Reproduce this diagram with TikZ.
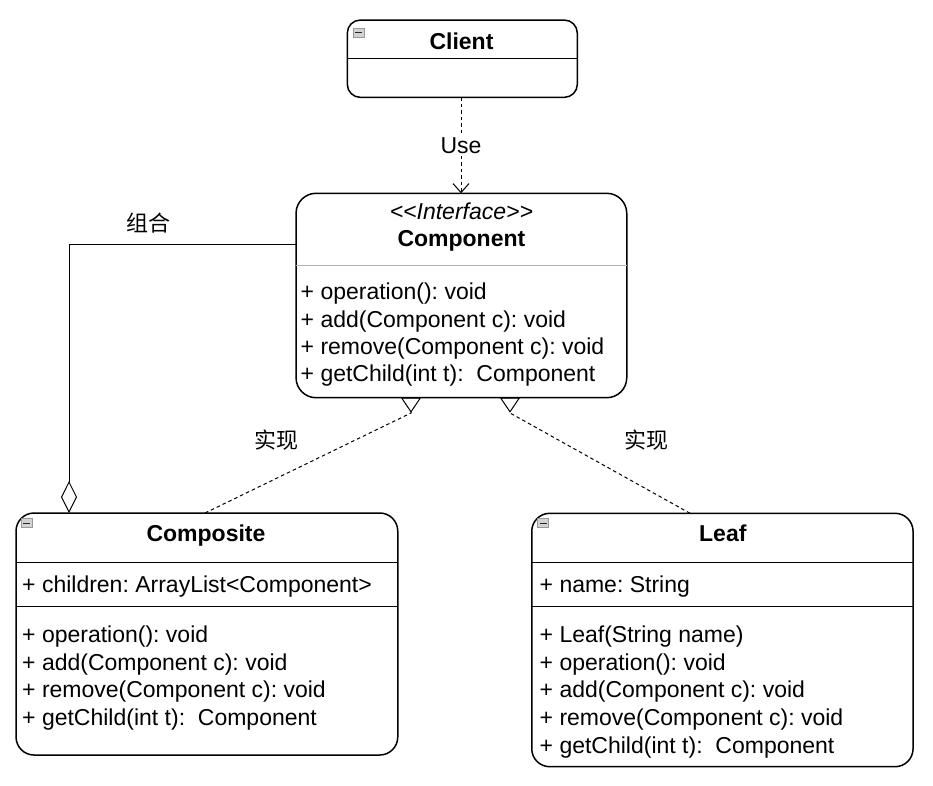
\documentclass[tikz,border=0pt]{standalone}
\usepackage{fontspec}
\setmainfont{Liberation Sans}
\newfontfamily\cjk{Noto Sans CJK SC}
\usetikzlibrary{arrows.meta}
\frenchspacing
\begin{document}
\begin{tikzpicture}[x=1pt,y=-1pt,
  umlbox/.style={draw, line width=1.5pt, rounded corners=16pt, fill=white, outer sep=0pt, inner sep=0pt},
  sep/.style={line width=1.2pt},
  lsep/.style={line width=1pt, draw=gray!60},
  txt/.style={anchor=base west, inner sep=0pt, font=\fontsize{23}{27}\selectfont},
  ttl/.style={anchor=base, inner sep=0pt, font=\fontsize{23}{27}\selectfont\bfseries},
  lbl/.style={inner sep=1.5pt, font=\fontsize{23}{27}\selectfont},
  cjklbl/.style={inner sep=1pt, font=\fontsize{22}{26}\selectfont\cjk},
  dsh/.style={line width=1pt, dash pattern=on 3.5pt off 3pt},
  icn/.style={draw=gray!80, fill=gray!35, line width=0.6pt, minimum width=11pt, minimum height=9pt, inner sep=0pt, outer sep=0pt},
  realize/.style={dsh, -{Triangle[open, reversed, length=15pt, width=20pt, line width=1pt]}}
]
\useasboundingbox (0,0) rectangle (933,785);

% ---- boxes ----
\node[umlbox, minimum width=230pt, minimum height=77.3pt, rounded corners=13pt] (client) at (462.3,58.7) {};
\node[umlbox, minimum width=330.7pt, minimum height=204.4pt, rounded corners=20pt] (component) at (461.4,295.5) {};
\node[umlbox, minimum width=381.7pt, minimum height=242pt, rounded corners=18pt] (composite) at (206.9,634) {};
\node[umlbox, minimum width=381.3pt, minimum height=253.4pt, rounded corners=18pt] (leaf) at (722.4,640) {};

% ---- dividers ----
\draw[sep] (client.west |- 0,58.3) -- (client.east |- 0,58.3);
\draw[lsep] (component.west |- 0,265) -- (component.east |- 0,265);
\draw[sep] (composite.west |- 0,562.7) -- (composite.east |- 0,562.7);
\draw[sep] (composite.west |- 0,606.7) -- (composite.east |- 0,606.7);
\draw[sep] (leaf.west |- 0,562.7) -- (leaf.east |- 0,562.7);
\draw[sep] (leaf.west |- 0,606.7) -- (leaf.east |- 0,606.7);

% ---- collapse icons ----
\node[icn] (ic1) at (358.5,32.5) {};
\draw[line width=0.8pt, gray!30!black] ([xshift=2pt]ic1.west) -- ([xshift=-2pt]ic1.east);
\node[icn] (ic2) at (26.5,523) {};
\draw[line width=0.8pt, gray!30!black] ([xshift=2pt]ic2.west) -- ([xshift=-2pt]ic2.east);
\node[icn] (ic3) at (543,523) {};
\draw[line width=0.8pt, gray!30!black] ([xshift=2pt]ic3.west) -- ([xshift=-2pt]ic3.east);

% ---- Client ----
\node[ttl] (clientT) at (461.5,49.3) {Client};

% ---- Component ----
\node[anchor=base, inner sep=0pt, font=\fontsize{23}{27}\selectfont\itshape] (stereo) at (461.4,219) {<{}<Interface>{}>};
\node[ttl] (componentT) at (461.4,246.7) {Component};
\node[txt] (cp1) at (300.5,299.5) {+ operation(): void};
\node[txt] (cp2) at (300.5,327) {+ add(Component c): void};
\node[txt] (cp3) at (300.5,354.5) {+ remove(Component c): void};
\node[txt] (cp4) at (300.5,381.8) {+ getChild(int t):\ \ Component};

% ---- Composite ----
\node[ttl] (compositeT) at (206,541.7) {Composite};
\node[txt] (cs0) at (22,592) {+ children: ArrayList<Component>};
\node[txt] (cs1) at (22,642.5) {+ operation(): void};
\node[txt] (cs2) at (22,670.1) {+ add(Component c): void};
\node[txt] (cs3) at (22,697.8) {+ remove(Component c): void};
\node[txt] (cs4) at (22,725.5) {+ getChild(int t):\ \ Component};

% ---- Leaf ----
\node[ttl] (leafT) at (722.8,541.7) {Leaf};
\node[txt] (lf0) at (539.5,592) {+ name: String};
\node[txt] (lf1) at (539.5,642.7) {+ Leaf(String name)};
\node[txt] (lf2) at (539.5,670.2) {+ operation(): void};
\node[txt] (lf3) at (539.5,697.8) {+ add(Component c): void};
\node[txt] (lf4) at (539.5,725.4) {+ remove(Component c): void};
\node[txt] (lf5) at (539.5,753.1) {+ getChild(int t):\ \ Component};

% ---- connectors ----
\draw[dsh, -{Straight Barb[length=9pt, width=16pt, line width=1pt]}]
  (client.south -| 461,0) -- (component.north -| 461,0)
  node[pos=0.5, lbl, fill=white] (use) {Use};

\draw[line width=1pt, -{Diamond[open, length=32pt, width=16pt, line width=1pt]}]
  (component.west |- 0,244) -| (composite.north -| 69,0);
\node[cjklbl] (zuhe) at (148,223) {组合};

\coordinate (r1) at (411,413);
\coordinate (r2) at (510,413);
\draw[realize] (composite.north -| 205,0) -- (r1) -- (r1 |- component.south);
\draw[realize] (leaf.north -| 690,0) -- (r2) -- (r2 |- component.south);
\node[cjklbl] (sx1) at (276,440) {实现};
\node[cjklbl] (sx2) at (646,440) {实现};
\end{tikzpicture}
\end{document}
